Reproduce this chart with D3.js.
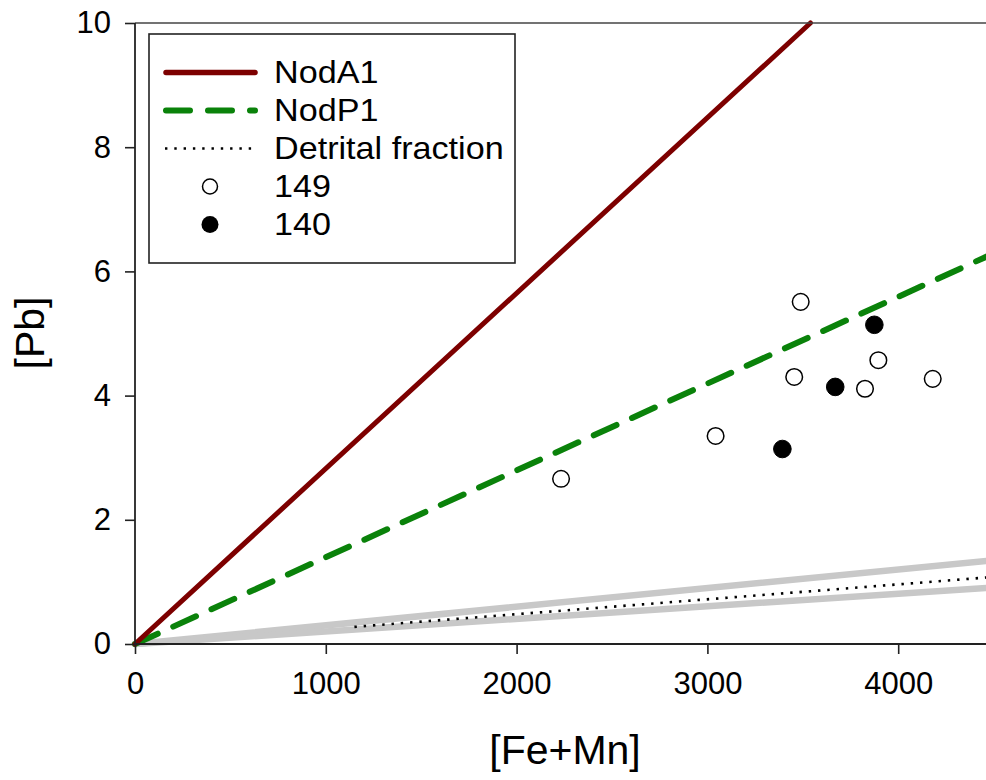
<!DOCTYPE html>
<html>
<head>
<meta charset="utf-8">
<script src="https://cdn.jsdelivr.net/npm/d3@7"></script>
<style>
  html, body { margin: 0; padding: 0; background: #fff; }
  svg { display: block; font-family: "Liberation Sans", Arial, sans-serif; }
</style>
</head>
<body>
<svg id="chart" width="986" height="780"></svg>
<script>
// ---- data ----
const xTicks = [0, 1000, 2000, 3000, 4000];
const yTicks = [0, 2, 4, 6, 8, 10];
const nodA1 = [[0, 0], [3540, 10]];
const nodP1 = [[0, 0], [4500, 6.29]];
const detrital = [[1150, 0.276], [4500, 1.08]];
const detritalUpper = [[0, 0], [4500, 1.35]];
const detritalLower = [[0, 0], [4500, 0.91]];
const s149x = [3489, 3896, 3455, 3826, 4181, 3043, 2233];
const s149y = [5.51, 4.57, 4.30, 4.11, 4.27, 3.35, 2.66];
const s140x = [3875, 3670, 3393];
const s140y = [5.14, 4.14, 3.14];
const legendLabels = ["NodA1", "NodP1", "Detrital fraction", "149", "140"];

// ---- layout ----
const svg = d3.select("#chart");
const x = d3.scaleLinear().domain([0, 4500]).range([135, 993.6]);
const y = d3.scaleLinear().domain([0, 10]).range([644, 23]);
const red = "#7d0000", green = "#0a820a", gray = "#c8c8c8";

svg.append("clipPath").attr("id", "clip")
  .append("rect").attr("x", 128).attr("y", 20).attr("width", 870).attr("height", 630);

const plot = svg.append("g").attr("clip-path", "url(#clip)");
const line = d3.line().x(d => x(d[0])).y(d => y(d[1]));

plot.append("path").datum(detritalUpper).attr("d", line)
  .attr("fill", "none").attr("stroke", gray).attr("stroke-width", 6.5).attr("stroke-linecap", "round");
plot.append("path").datum(detritalLower).attr("d", line)
  .attr("fill", "none").attr("stroke", gray).attr("stroke-width", 6.5).attr("stroke-linecap", "round");
plot.append("path").datum(detrital).attr("d", line)
  .attr("fill", "none").attr("stroke", "#000").attr("stroke-width", 2.6)
  .attr("stroke-dasharray", "2.4,6.9");
plot.append("path").datum(nodP1).attr("d", line)
  .attr("fill", "none").attr("stroke", green).attr("stroke-width", 6)
  .attr("stroke-linecap", "round").attr("stroke-dasharray", "25,17");
plot.append("path").datum(nodA1).attr("d", line)
  .attr("fill", "none").attr("stroke", red).attr("stroke-width", 5).attr("stroke-linecap", "round");

// ---- axes ----
const axisColor = "#222";
const xAxis = svg.append("g").attr("transform", "translate(0,644)")
  .call(d3.axisBottom(x).tickValues(xTicks).tickSize(10).tickPadding(18).tickFormat(d3.format("d")));
const yAxis = svg.append("g").attr("transform", "translate(135,0)")
  .call(d3.axisLeft(y).tickValues(yTicks).tickSize(10).tickPadding(14));
[xAxis, yAxis].forEach(a => {
  a.select(".domain").remove();
  a.selectAll("line").attr("stroke", axisColor).attr("stroke-width", 1.6);
  a.selectAll("text").attr("font-size", 31).attr("fill", "#000")
    .attr("font-family", "'Liberation Sans', Arial, sans-serif");
});
// frame lines
svg.append("line").attr("x1", 135).attr("x2", 986).attr("y1", 644).attr("y2", 644)
  .attr("stroke", axisColor).attr("stroke-width", 1.8);
svg.append("line").attr("x1", 135).attr("x2", 986).attr("y1", 23).attr("y2", 23)
  .attr("stroke", "#444").attr("stroke-width", 1.6);
svg.append("line").attr("x1", 135).attr("x2", 135).attr("y1", 23).attr("y2", 644)
  .attr("stroke", axisColor).attr("stroke-width", 1.8);

// ---- points ----
const pts = svg.append("g");
pts.selectAll("circle.o").data(d3.range(s149x.length)).join("circle").attr("class", "o")
  .attr("cx", i => x(s149x[i])).attr("cy", i => y(s149y[i])).attr("r", 8.3)
  .attr("fill", "#fff").attr("stroke", "#000").attr("stroke-width", 1.5);
pts.selectAll("circle.f").data(d3.range(s140x.length)).join("circle").attr("class", "f")
  .attr("cx", i => x(s140x[i])).attr("cy", i => y(s140y[i])).attr("r", 8.8)
  .attr("fill", "#000").attr("stroke", "#000").attr("stroke-width", 1);

// ---- axis titles ----
svg.append("text").attr("x", 565).attr("y", 764).attr("text-anchor", "middle")
  .attr("font-size", 41).text("[Fe+Mn]");
svg.append("text").attr("transform", "translate(44,333) rotate(-90)").attr("text-anchor", "middle")
  .attr("font-size", 41).text("[Pb]");

// ---- legend ----
const lg = svg.append("g");
lg.append("rect").attr("x", 149).attr("y", 34).attr("width", 366).attr("height", 229)
  .attr("fill", "#fff").attr("stroke", "#222").attr("stroke-width", 1.6);
const rowY = d3.scalePoint().domain(legendLabels).range([72.5, 224.5]);
const sx0 = 166, sx1 = 255;
lg.append("line").attr("x1", sx0).attr("x2", sx1).attr("y1", rowY("NodA1")).attr("y2", rowY("NodA1"))
  .attr("stroke", red).attr("stroke-width", 5.5).attr("stroke-linecap", "round");
lg.append("line").attr("x1", sx0).attr("x2", sx1).attr("y1", rowY("NodP1")).attr("y2", rowY("NodP1"))
  .attr("stroke", green).attr("stroke-width", 6).attr("stroke-linecap", "round").attr("stroke-dasharray", "24,18");
lg.append("line").attr("x1", sx0 - 1).attr("x2", sx1).attr("y1", rowY("Detrital fraction")).attr("y2", rowY("Detrital fraction"))
  .attr("stroke", "#000").attr("stroke-width", 2.6).attr("stroke-dasharray", "2.4,6.9");
lg.append("circle").attr("cx", 210).attr("cy", rowY("149")).attr("r", 7.5)
  .attr("fill", "#fff").attr("stroke", "#000").attr("stroke-width", 1.5);
lg.append("circle").attr("cx", 210).attr("cy", rowY("140")).attr("r", 8.5).attr("fill", "#000");
legendLabels.forEach(l => {
  lg.append("text").attr("transform", `translate(274,${rowY(l)}) scale(1.12,1)`)
    .attr("dy", "0.35em").attr("font-size", 30.5).text(l);
});
</script>
</body>
</html>
